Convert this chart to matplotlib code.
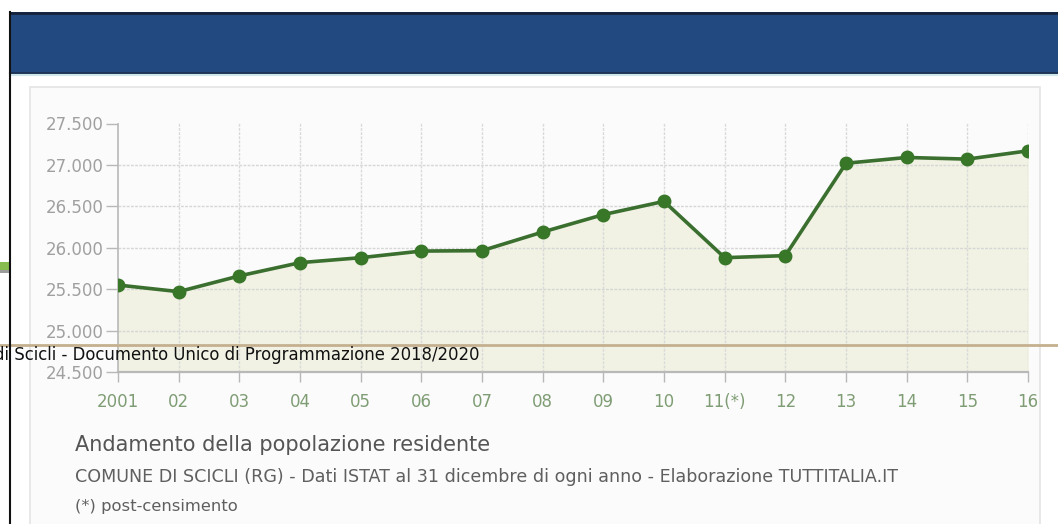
import matplotlib.pyplot as plt
from matplotlib.patches import Rectangle
from matplotlib.ticker import FuncFormatter

years = ["2001", "02", "03", "04", "05", "06", "07", "08",
         "09", "10", "11(*)", "12", "13", "14", "15", "16"]
population = [25550, 25470, 25660, 25820, 25880, 25960, 25965, 26190,
              26400, 26560, 25880, 25905, 27020, 27090, 27070, 27170]
y_ticks = [24500, 25000, 25500, 26000, 26500, 27000, 27500]

title = "Andamento della popolazione residente"
subtitle = ("COMUNE DI SCICLI (RG) - Dati ISTAT al 31 dicembre di ogni anno"
            " - Elaborazione TUTTITALIA.IT")
footnote = "(*) post-censimento"
page_footer = "di Scicli - Documento Unico di Programmazione 2018/2020"

W, H = 1058, 524
fig = plt.figure(figsize=(W / 100, H / 100), dpi=100)
fig.patch.set_facecolor("white")


def fx(px):
    return px / W


def fy(py):
    return 1 - py / H


def pixel_axes(zorder):
    a = fig.add_axes([0, 0, 1, 1], zorder=zorder)
    a.set_xlim(0, W)
    a.set_ylim(H, 0)
    a.axis("off")
    a.patch.set_alpha(0)
    return a


# page background: header band, chart card, side tab
bg = pixel_axes(0)
bg.add_patch(Rectangle((10, 12), W - 10, 62, facecolor="#234a80", edgecolor="none"))
bg.plot([10, W], [12.5, 12.5], color="#16223a", lw=2)
bg.plot([10, W], [73, 73], color="#1e3458", lw=1.5)
bg.plot([10, W], [75, 75], color="#cfe6ea", lw=1.5)
bg.add_patch(Rectangle((30, 87), 1010, 445, facecolor="#fbfbfb", edgecolor="#e4e4e4", lw=1.2))
bg.add_patch(Rectangle((0, 262), 9, 8, facecolor="#86bd4e", edgecolor="none"))
bg.add_patch(Rectangle((0, 270), 9, 3, facecolor="#9c9c9c", edgecolor="none"))

# population chart
ax = fig.add_axes([fx(118), fy(372), fx(1028) - fx(118), (372 - 123.5) / H], zorder=1)
ax.set_facecolor("none")
x = list(range(len(years)))
ax.fill_between(x, population, y_ticks[0], color="#f1f2e3", zorder=1)
ax.plot(x, population, color="#3b6f2f", lw=2.6, marker="o", markersize=9,
        markerfacecolor="#387628", markeredgecolor="#387628", zorder=4)

for v in y_ticks[1:-1]:
    ax.axhline(v, color="#d6d6d6", lw=1, ls=(0, (2, 1)), zorder=2)
for xi in x[1:]:
    ax.axvline(xi, color="#dadada", lw=1, ls=(0, (2, 1)), zorder=2)

ax.set_xlim(0, len(years) - 1)
ax.set_ylim(y_ticks[0], y_ticks[-1])
ax.set_xticks(x)
ax.set_xticklabels(years)
ax.set_yticks(y_ticks)
ax.yaxis.set_major_formatter(FuncFormatter(lambda v, p: f"{int(v):,}".replace(",", ".")))

for side in ["top", "right"]:
    ax.spines[side].set_visible(False)
ax.spines["left"].set_color("#b8b8b8")
ax.spines["bottom"].set_color("#b8b8b8")
ax.spines["left"].set_linewidth(1.2)
ax.spines["bottom"].set_linewidth(1.6)
ax.spines["left"].set_zorder(3)
ax.spines["bottom"].set_zorder(3)

ax.tick_params(axis="y", length=9, width=1, color="#b8b8b8", pad=1,
               labelsize=12, labelcolor="#a0a0a0")
ax.tick_params(axis="x", length=7, width=1, color="#b8b8b8", pad=8,
               labelsize=12, labelcolor="#7f9d74")
for lab in ax.get_xticklabels() + ax.get_yticklabels():
    lab.set_family("DejaVu Sans")

fig.text(fx(75), fy(445), title, fontsize=15, color="#555555",
         family="DejaVu Sans", va="center", ha="left")
fig.text(fx(75), fy(477), subtitle, fontsize=12.6, color="#5f5f5f",
         family="DejaVu Sans", va="center", ha="left")
fig.text(fx(75), fy(507), footnote, fontsize=11.8, color="#5f5f5f",
         family="DejaVu Sans", va="center", ha="left")

# document footer drawn over the chart
top = pixel_axes(5)
top.plot([0, W], [345, 345], color="#c4b08f", lw=2)
top.text(-6, 355, page_footer, fontsize=11.9, color="#111111",
         family="DejaVu Sans", va="center", ha="left", clip_on=True)
top.plot([10, 10], [12, H], color="#111111", lw=1.5)

fig.savefig("out.png", dpi=100)
